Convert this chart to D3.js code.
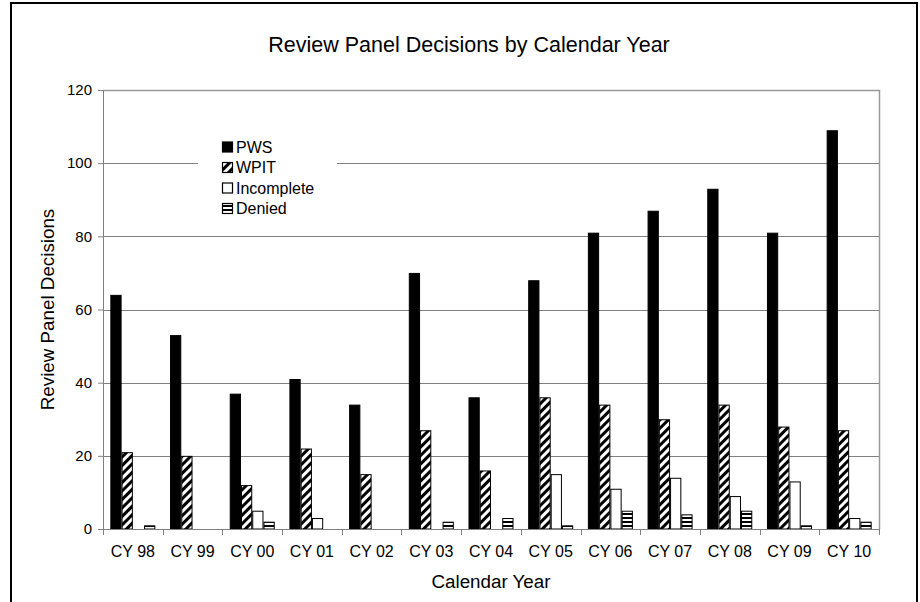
<!DOCTYPE html>
<html><head><meta charset="utf-8">
<script src="https://cdn.jsdelivr.net/npm/d3@7"></script>
<style>body{margin:0;background:#fff}svg{display:block;font-family:"Liberation Sans",Arial,sans-serif}</style>
</head><body>
<script>
const categories = ["CY 98","CY 99","CY 00","CY 01","CY 02","CY 03","CY 04","CY 05","CY 06","CY 07","CY 08","CY 09","CY 10"];
const seriesNames = ["PWS","WPIT","Incomplete","Denied"];
const pws        = [64,53,37,41,34,70,36,68,81,87,93,81,109];
const wpit       = [21,20,12,22,15,27,16,36,34,30,34,28,27];
const incomplete = [0,0,5,3,0,0,0,15,11,14,9,13,3];
const denied     = [1,0,2,0,0,2,3,1,5,4,5,1,2];
const yTicks = [0,20,40,60,80,100,120];
const title = "Review Panel Decisions by Calendar Year";
const xTitle = "Calendar Year";
const yTitle = "Review Panel Decisions";

const seriesValues = [pws, wpit, incomplete, denied];
const W = 920, H = 602;
const L = 103, R = 879, T = 90, B = 529;

const svg = d3.select("body").append("svg").attr("width", W).attr("height", H);
const defs = svg.append("defs");
const pd = defs.append("pattern").attr("id","diag").attr("patternUnits","userSpaceOnUse")
  .attr("width",6).attr("height",6).attr("patternTransform","rotate(45)");
pd.append("rect").attr("width",6).attr("height",6).attr("fill","#fff");
pd.append("rect").attr("width",3).attr("height",6).attr("fill","#000");
const ph = defs.append("pattern").attr("id","horiz").attr("patternUnits","userSpaceOnUse")
  .attr("width",4).attr("height",4).attr("y",1);
ph.append("rect").attr("width",4).attr("height",4).attr("fill","#fff");
ph.append("rect").attr("width",4).attr("height",2).attr("fill","#000");

const fills = ["#000","url(#diag)","#fff","url(#horiz)"];

svg.append("path").attr("d",`M11,${H+2} V3 H917 V${H+2}`).attr("fill","none").attr("stroke","#000").attr("stroke-width",2);

const x0 = d3.scaleBand().domain(categories).range([L,R]);
const bw = x0.bandwidth();
const x1 = d3.scaleBand().domain(seriesNames).range([bw*0.123, bw*0.877]);
const y = d3.scaleLinear().domain([0,120]).range([B,T]);

svg.append("g").selectAll("line").data(yTicks.filter(d=>d>0)).join("line")
  .attr("x1",L).attr("x2",R).attr("y1",d=>Math.round(y(d))+0.5).attr("y2",d=>Math.round(y(d))+0.5)
  .attr("stroke","#808080").attr("stroke-width",1);
svg.append("path").attr("d",`M${L},${T+0.5} H${R+0.5} V${B}`).attr("fill","none").attr("stroke","#999").attr("stroke-width",1.5);

const lg = svg.append("g");
lg.append("rect").attr("x",198).attr("y",136).attr("width",139).attr("height",82).attr("fill","#fff");

const data = categories.flatMap((c,i)=>seriesNames.map((s,j)=>({c,s,j,v:seriesValues[j][i]})));
svg.append("g").selectAll("rect").data(data.filter(d=>d.v>0)).join("rect")
  .attr("x",d=>x0(d.c)+x1(d.s)+0.5)
  .attr("y",d=>y(d.v)+0.5)
  .attr("width",x1.bandwidth()-1)
  .attr("height",d=>B-y(d.v)-0.5)
  .attr("fill",d=>fills[d.j])
  .attr("stroke","#000").attr("stroke-width",1);

const yAxis = d3.axisLeft(y).tickValues(yTicks).tickSize(5).tickPadding(6);
const ya = svg.append("g").attr("transform",`translate(${L},0)`).call(yAxis);
ya.select(".domain").attr("stroke","#808080");
ya.selectAll(".tick line").attr("stroke","#808080");
ya.selectAll("text").attr("font-size",15).attr("fill","#000").attr("font-family","Liberation Sans, Arial, sans-serif");

const xa = svg.append("g").attr("transform",`translate(0,${B})`);
xa.append("line").attr("x1",L).attr("x2",R).attr("y1",0.5).attr("y2",0.5).attr("stroke","#808080");
xa.selectAll("line.tk").data(d3.range(categories.length+1)).join("line").attr("class","tk")
  .attr("x1",i=>Math.round(L+i*bw)+0.5).attr("x2",i=>Math.round(L+i*bw)+0.5)
  .attr("y1",0).attr("y2",6).attr("stroke","#808080");
xa.selectAll("text").data(categories).join("text")
  .attr("x",d=>x0(d)+bw/2).attr("y",28).attr("text-anchor","middle")
  .attr("font-size",16).text(d=>d);

svg.append("text").attr("x",469).attr("y",52).attr("text-anchor","middle").attr("font-size",21.5).text(title);
svg.append("text").attr("x",(L+R)/2).attr("y",588).attr("text-anchor","middle").attr("font-size",18.8).text(xTitle);
svg.append("text").attr("transform",`translate(54,${(T+B)/2}) rotate(-90)`).attr("text-anchor","middle").attr("font-size",18.8).text(yTitle);

seriesNames.forEach((s,j)=>{
  const cy = 147 + j*20.5;
  lg.append("rect").attr("x",222.5).attr("y",cy-5).attr("width",10).attr("height",10)
    .attr("fill",fills[j]).attr("stroke","#000").attr("stroke-width",1.2);
  lg.append("text").attr("x",236).attr("y",cy+5.7).attr("font-size",16).text(s);
});
</script>
</body></html>
